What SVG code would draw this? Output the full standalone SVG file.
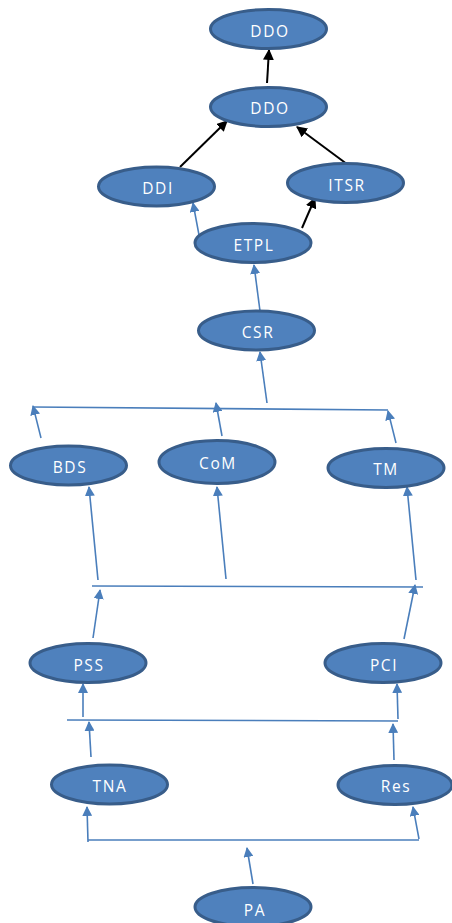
<svg xmlns="http://www.w3.org/2000/svg" width="452" height="923" viewBox="0 0 452 923">
<style>
.n ellipse{fill:#4F81BD;stroke:#385D8A;stroke-width:3}
.n text{fill:#fff;font-family:"Open Sans","Liberation Sans",sans-serif;font-size:15.5px;text-anchor:middle;letter-spacing:1.6px}
.b{stroke:#4A7EBB;stroke-width:1.6;fill:none}
.k{stroke:#000;stroke-width:2;fill:none}
</style>
<defs>
<marker id="ab" viewBox="0 0 10 10" refX="9" refY="5" markerWidth="10" markerHeight="10" markerUnits="userSpaceOnUse" orient="auto"><path d="M0,0L10,5L0,10z" fill="#4A7EBB"/></marker>
<marker id="ak" viewBox="0 0 10 10" refX="9" refY="5" markerWidth="11" markerHeight="11" markerUnits="userSpaceOnUse" orient="auto"><path d="M0,0L10,5L0,10z" fill="#000"/></marker>
</defs>
<rect width="452" height="923" fill="#fff"/>
<g id="connectors">
<line class="k" x1="267" y1="83" x2="269" y2="50" marker-end="url(#ak)"/>
<line class="k" x1="180" y1="167" x2="227" y2="121" marker-end="url(#ak)"/>
<line class="k" x1="359" y1="173" x2="297" y2="127" marker-end="url(#ak)"/>
<line class="k" x1="302" y1="228" x2="315" y2="198" marker-end="url(#ak)"/>
<line class="b" x1="199" y1="235" x2="193" y2="203" marker-end="url(#ab)"/>
<line class="b" x1="260" y1="311" x2="254" y2="265" marker-end="url(#ab)"/>
<line class="b" x1="267" y1="403" x2="260" y2="352" marker-end="url(#ab)"/>
<line class="b" x1="33" y1="407" x2="388" y2="410"/>
<line class="b" x1="41" y1="438" x2="33" y2="406" marker-end="url(#ab)"/>
<line class="b" x1="222" y1="436" x2="216" y2="403" marker-end="url(#ab)"/>
<line class="b" x1="396" y1="443" x2="388" y2="411" marker-end="url(#ab)"/>
<line class="b" x1="98" y1="580" x2="89" y2="487" marker-end="url(#ab)"/>
<line class="b" x1="226" y1="579" x2="217" y2="487" marker-end="url(#ab)"/>
<line class="b" x1="416" y1="580" x2="407" y2="487" marker-end="url(#ab)"/>
<line class="b" x1="92" y1="586" x2="423" y2="587"/>
<line class="b" x1="93" y1="638" x2="100" y2="590" marker-end="url(#ab)"/>
<line class="b" x1="404" y1="639" x2="415" y2="585" marker-end="url(#ab)"/>
<line class="b" x1="67" y1="720" x2="398" y2="721"/>
<line class="b" x1="83" y1="717" x2="83" y2="684" marker-end="url(#ab)"/>
<line class="b" x1="398" y1="719" x2="397" y2="684" marker-end="url(#ab)"/>
<line class="b" x1="91" y1="757" x2="89" y2="722" marker-end="url(#ab)"/>
<line class="b" x1="394" y1="760" x2="393" y2="724" marker-end="url(#ab)"/>
<line class="b" x1="88" y1="840" x2="419" y2="840"/>
<line class="b" x1="88" y1="842" x2="87" y2="807" marker-end="url(#ab)"/>
<line class="b" x1="419" y1="839" x2="413" y2="807" marker-end="url(#ab)"/>
<line class="b" x1="253" y1="884" x2="247" y2="848" marker-end="url(#ab)"/>
</g>
<g id="ddo1" class="n"><ellipse cx="268.5" cy="29" rx="58" ry="19.5"/><text x="270" y="37">DDO</text></g>
<g id="ddo2" class="n"><ellipse cx="268.5" cy="107" rx="58" ry="19.5"/><text x="270" y="114">DDO</text></g>
<g id="ddi" class="n"><ellipse cx="156.5" cy="186.5" rx="58" ry="19.5"/><text x="158" y="194">DDI</text></g>
<g id="itsr" class="n"><ellipse cx="345.5" cy="183" rx="58" ry="19.5"/><text x="347" y="191">ITSR</text></g>
<g id="etpl" class="n"><ellipse cx="253" cy="243" rx="58" ry="19.5"/><text x="254" y="251">ETPL</text></g>
<g id="csr" class="n"><ellipse cx="256.5" cy="330.5" rx="58" ry="19.5"/><text x="258" y="338">CSR</text></g>
<g id="bds" class="n"><ellipse cx="68.5" cy="465.5" rx="58" ry="19.5"/><text x="70" y="473">BDS</text></g>
<g id="com" class="n"><ellipse cx="217" cy="462" rx="58" ry="21.5"/><text x="218" y="469">CoM</text></g>
<g id="tm" class="n"><ellipse cx="386" cy="468" rx="58" ry="19.5"/><text x="386" y="475">TM</text></g>
<g id="pss" class="n"><ellipse cx="88" cy="663" rx="58" ry="19.5"/><text x="89" y="671">PSS</text></g>
<g id="pci" class="n"><ellipse cx="383" cy="663" rx="58" ry="19.5"/><text x="384" y="671">PCI</text></g>
<g id="tna" class="n"><ellipse cx="109.5" cy="784.5" rx="58" ry="19.5"/><text x="110" y="792">TNA</text></g>
<g id="res" class="n"><ellipse cx="395" cy="785" rx="57" ry="19.5"/><text x="396" y="792">Res</text></g>
<g id="pa" class="n"><ellipse cx="253" cy="907" rx="58" ry="19.5"/><text x="255" y="916">PA</text></g>
</svg>
